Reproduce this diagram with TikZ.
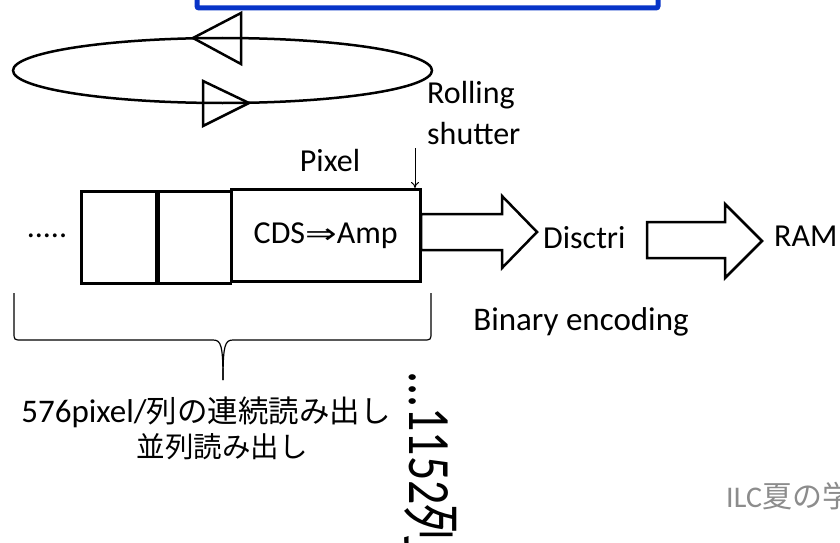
\documentclass[tikz,border=0pt]{standalone}
\usepackage{fontspec}
\usepackage{graphicx}
\setmainfont{Carlito}
\newfontfamily\jpfont{Noto Sans CJK JP}
\newfontfamily\symfont{DejaVu Sans}
\usetikzlibrary{arrows.meta}
\definecolor{frameblue}{RGB}{8,52,200}
\definecolor{notegray}{RGB}{140,140,140}

\begin{document}
\begin{tikzpicture}[x=1pt,y=-1pt, every node/.style={font=\fontsize{32}{41}\selectfont, inner sep=0pt},
    cell/.style={draw, line width=2.5pt, minimum height=92pt, anchor=north west},
    bold line/.style={line width=2.5pt, line join=miter}]
        \clip (0,0) rectangle (840,543);
        \fill[white] (0,0) rectangle (840,543);
        % blue frame, cut off at the top
        \draw[frameblue, line width=5pt, rounded corners=2pt] (197,-30) rectangle (658,8);
        % rolling shutter loop
        \draw[line width=2.5pt] (222.5,70.5) ellipse [x radius=209.5, y radius=32.5];
        \draw[bold line] (193,38) -- (241,13) -- (241,64) -- cycle;
        \draw[bold line] (249,103) -- (203,81) -- (203,126) -- cycle;
        \node[anchor=base west] (rolling) at (427,103) {Rolling};
        \node[anchor=base west] (shutter) at (427,144) {shutter};
        % pixel column
        \node (dots) at (47,236) {.....};
        \node[cell, minimum width=75pt] (c1) at (80,190) {};
        \node[cell, minimum width=72pt] (c2) at (c1.north east) {};
        \node[cell, minimum width=189pt] (cds) at (230,188)
            {CDS\scalebox{1.35}[1]{\symfont\fontsize{28}{28}\selectfont ⇒}Amp};
        \node (pixel) at (330,160) {Pixel};
        \coordinate (rs) at (415,148);
        \draw[-{To[length=6pt,width=8pt]}, line width=1pt] (rs) -- (rs |- cds.north);
        % readout chain
        \draw[bold line] (421,214) -- (502,214) -- (502,196) -- (537,232) -- (502,268) -- (502,250) -- (421,250) -- cycle;
        \node[anchor=base west] (disc) at (543,248) {Disctri};
        \draw[bold line] (647,222) -- (725,222) -- (725,204) -- (762,241) -- (725,278) -- (725,258) -- (647,258) -- cycle;
        \node[anchor=base west] (ram) at (774,246) {RAM};
        \node[font=\fontsize{33}{33}\selectfont] (enc) at (581,322) {Binary encoding};
        % brace under the column
        \draw[line width=1.2pt] (14,293) -- (14,332) .. controls (14,340) .. (22,340) -- (213,340)
            .. controls (221,340) and (223,345) .. (223,380);
        \draw[line width=1.2pt] (431,293) -- (431,332) .. controls (431,340) .. (423,340) -- (233,340)
            .. controls (225,340) and (223,345) .. (223,380);
        \node[anchor=base, font=\fontsize{33}{33}\selectfont] (par1) at (206,422)
            {576pixel/{\jpfont\fontsize{30.5}{30.5}\selectfont 列の連続読み出し}};
        \node[anchor=base, font=\jpfont\fontsize{28.5}{28.5}\selectfont] (par2) at (222,457) {並列読み出し};
        \node[rotate=-90, anchor=base west, font=\fontsize{48}{48}\selectfont] (cols) at (409,371)
            {\scalebox{1}[1.25]{...1152{\jpfont 列}}};
        \node[anchor=base west, text=notegray, font=\fontsize{30}{30}\selectfont] (ilc) at (726,507) {ILC{\jpfont 夏の学}};
\end{tikzpicture}
\end{document}
